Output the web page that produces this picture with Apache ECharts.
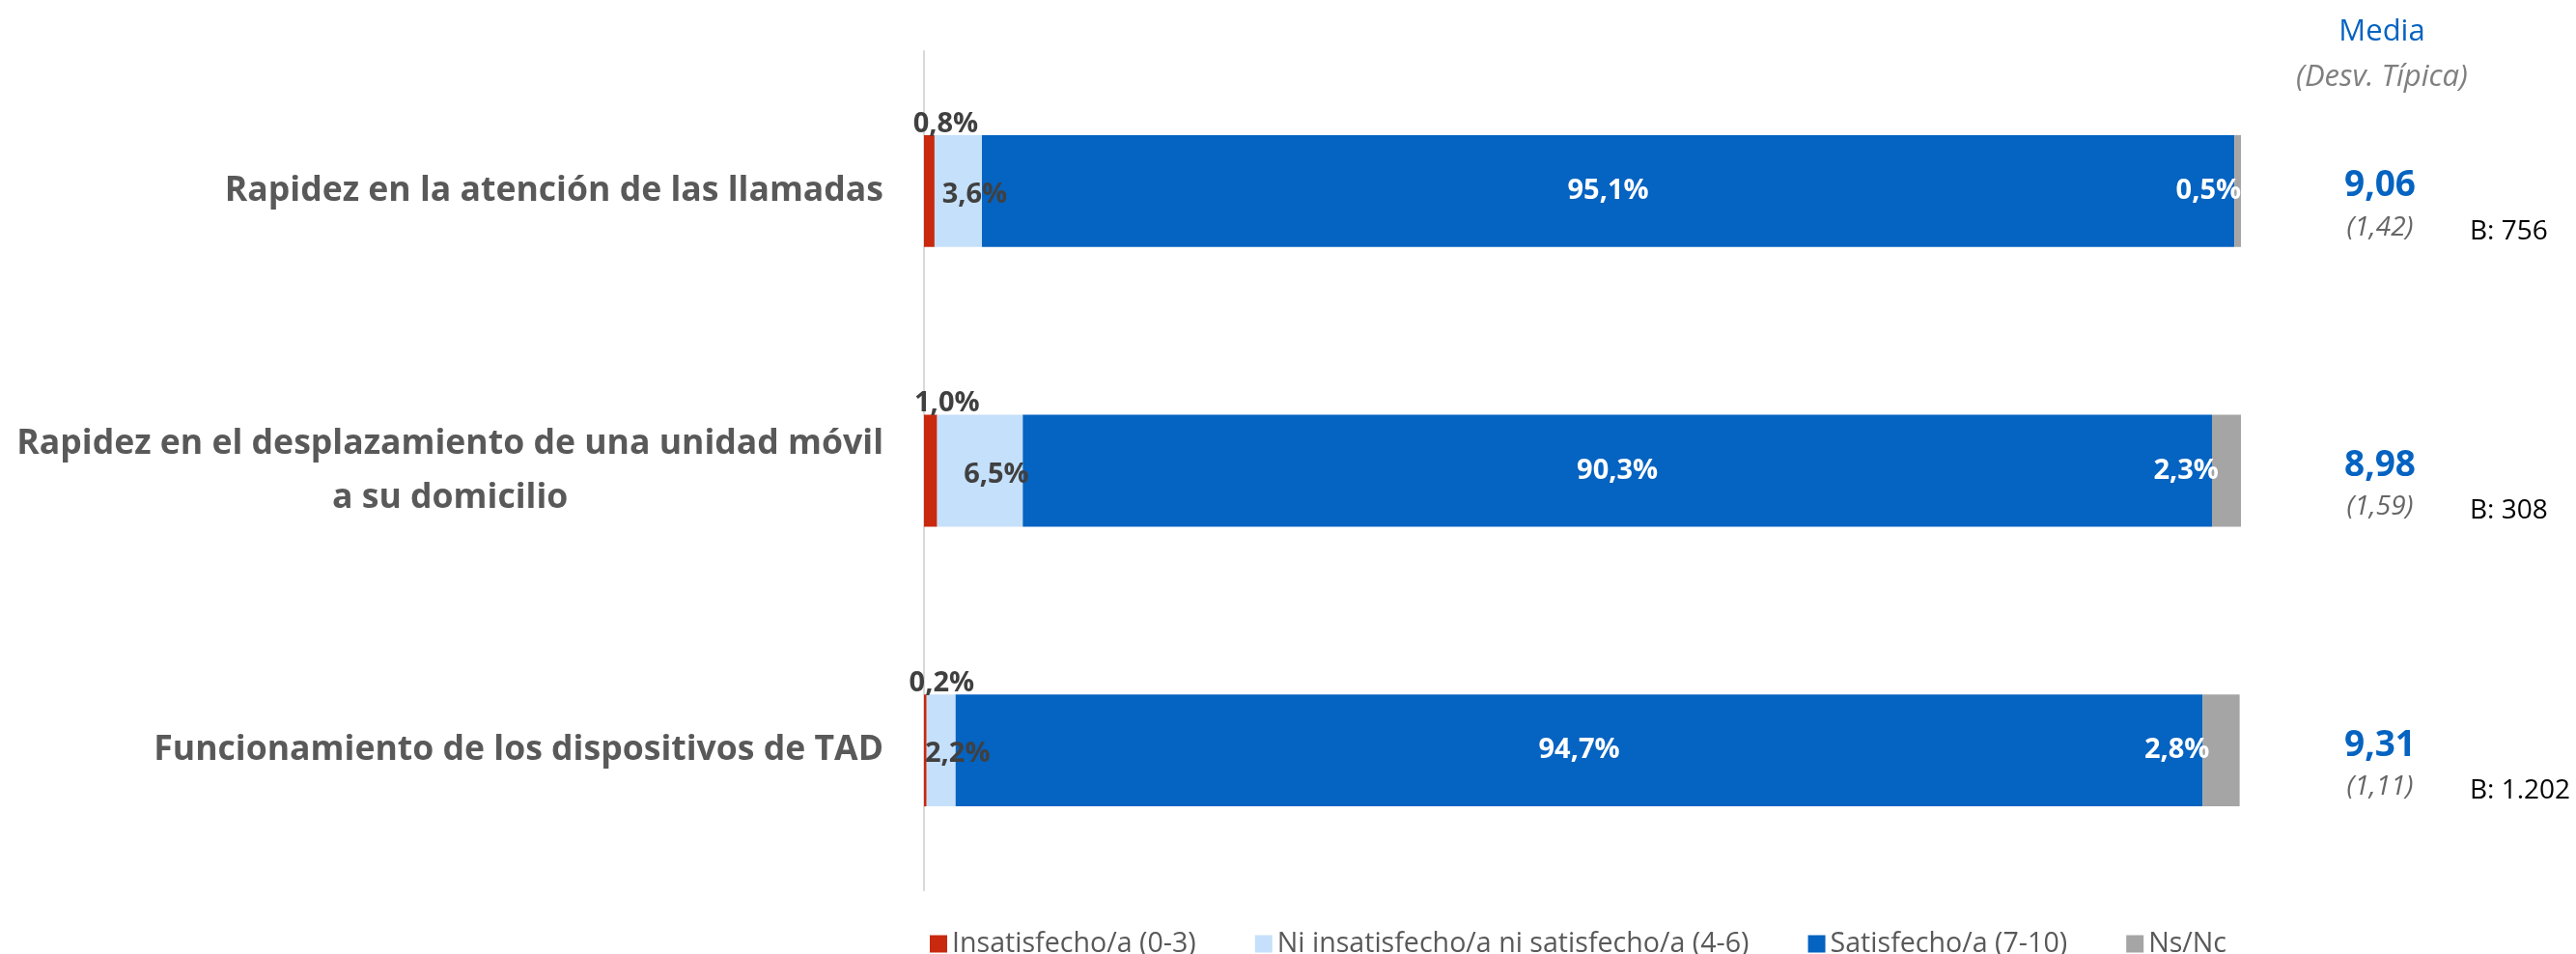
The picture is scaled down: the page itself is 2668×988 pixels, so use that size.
<!DOCTYPE html>
<html>
<head>
<meta charset="utf-8">
<title>Satisfacción</title>
<script src="https://cdn.jsdelivr.net/npm/echarts@6/dist/echarts.min.js"></script>
<style>
  html, body { margin: 0; padding: 0; background: #fff; }
  #chart { width: 2668px; height: 988px; }
</style>
</head>
<body>
<div id="chart"></div>
<script>
const categorias = [
  'Rapidez en la atención de las llamadas',
  'Rapidez en el desplazamiento de una unidad móvil\na su domicilio',
  'Funcionamiento de los dispositivos de TAD'
]
const nombres = [
  'Insatisfecho/a (0-3)',
  'Ni insatisfecho/a ni satisfecho/a (4-6)',
  'Satisfecho/a (7-10)',
  'Ns/Nc'
]
const insatisfecho = [0.8, 1.0, 0.2]
const niNi = [3.6, 6.5, 2.2]
const satisfecho = [95.1, 90.3, 94.7]
const nsnc = [0.5, 2.3, 2.8]
const media = [9.06, 8.98, 9.31]
const desviacion = [1.42, 1.59, 1.11]
const base = [756, 308, 1202]

const FONT = '"Open Sans", "Noto Sans", sans-serif'
const AZUL = '#0563C1'

const pct = (v) => v.toFixed(1).replace('.', ',') + '%'
const dec = (v) => v.toFixed(2).replace('.', ',')
const miles = (v) => String(v).replace(/\B(?=(\d{3})+(?!\d))/g, '.')

const labelBase = {
  show: true,
  fontFamily: FONT,
  fontSize: 29,
  fontWeight: 'bold',
  formatter: (p) => pct(p.value)
}

const option = {
  animation: false,
  textStyle: { fontFamily: FONT },
  grid: { left: 957, right: 347, top: 53, bottom: 66 },
  xAxis: {
    type: 'value',
    min: 0,
    max: 100,
    show: false
  },
  yAxis: [
    {
      type: 'category',
      data: categorias,
      inverse: true,
      axisTick: { show: false },
      axisLine: { lineStyle: { color: '#D9D9D9', width: 2 } },
      axisLabel: {
        margin: 42,
        align: 'right',
        formatter: (v) => v.split('\n').map((s) => '{c|' + s + '}').join('\n'),
        rich: {
          c: {
            align: 'center',
            fontFamily: FONT,
            fontSize: 35.6,
            fontWeight: 'bold',
            color: '#595959',
            lineHeight: 56
          }
        }
      }
    },
    {
      // columna de media y desviación típica
      type: 'category',
      data: categorias,
      inverse: true,
      position: 'right',
      axisLine: { show: false },
      axisTick: { show: false },
      axisLabel: {
        margin: 144,
        align: 'center',
        padding: [30, 0, 0, 0],
        formatter: (v, i) => '{m|' + dec(media[i]) + '}\n{s|(' + dec(desviacion[i]) + ')}',
        rich: {
          m: { fontFamily: FONT, fontSize: 37, fontWeight: 'bold', color: AZUL, lineHeight: 46 },
          s: { fontFamily: FONT, fontSize: 28, fontStyle: 'italic', color: '#666666', lineHeight: 40 }
        }
      }
    },
    {
      // base de cada pregunta
      type: 'category',
      data: categorias,
      inverse: true,
      position: 'right',
      axisLine: { show: false },
      axisTick: { show: false },
      axisLabel: {
        margin: 237,
        align: 'left',
        padding: [84, 0, 0, 0],
        formatter: (v, i) => '{b|B: ' + miles(base[i]) + '}',
        rich: {
          b: { fontFamily: FONT, fontSize: 28, color: '#000000', lineHeight: 34 }
        }
      }
    }
  ],
  legend: {
    data: nombres,
    left: 958,
    top: 958,
    icon: 'rect',
    itemWidth: 18,
    itemHeight: 18,
    itemGap: 61,
    textStyle: { fontFamily: FONT, fontSize: 28.6, color: '#595959' }
  },
  graphic: [
    {
      type: 'text',
      x: 2467,
      y: 33,
      style: { text: 'Media', fontFamily: FONT, fontSize: 31, fill: AZUL, align: 'center', verticalAlign: 'middle' }
    },
    {
      type: 'text',
      x: 2467,
      y: 80,
      style: { text: '(Desv. Típica)', fontFamily: FONT, fontSize: 31, fontStyle: 'italic', fill: '#7F7F7F', align: 'center', verticalAlign: 'middle' }
    }
  ],
  series: [
    {
      name: nombres[0],
      type: 'bar',
      stack: 'total',
      barWidth: '40%',
      data: insatisfecho,
      itemStyle: { color: '#C8290F' },
      label: { ...labelBase, position: 'top', distance: -3, offset: [17, 0], color: '#404040' }
    },
    {
      name: nombres[1],
      type: 'bar',
      stack: 'total',
      data: niNi,
      itemStyle: { color: '#C5E0FA' },
      label: { ...labelBase, position: 'inside', offset: [17, 4], color: '#404040' }
    },
    {
      name: nombres[2],
      type: 'bar',
      stack: 'total',
      data: satisfecho,
      itemStyle: { color: AZUL },
      label: { ...labelBase, position: 'inside', color: '#ffffff' }
    },
    {
      name: nombres[3],
      type: 'bar',
      stack: 'total',
      data: nsnc,
      itemStyle: { color: '#A5A5A5' },
      label: { ...labelBase, position: 'left', distance: -7, color: '#ffffff' }
    }
  ]
}

const myChart = echarts.init(document.getElementById('chart'))
myChart.setOption(option)
</script>
</body>
</html>
